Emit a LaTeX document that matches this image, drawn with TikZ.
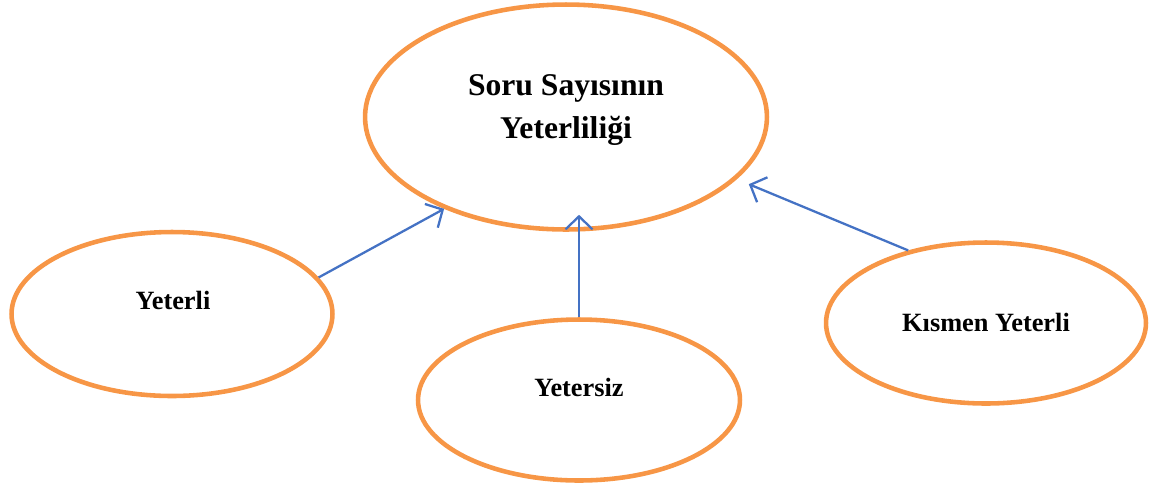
\documentclass[tikz,border=0pt]{standalone}
\usepackage{fontspec}
\setmainfont{Liberation Serif}
\usetikzlibrary{shapes.geometric,arrows.meta,positioning}
\definecolor{ovalorange}{RGB}{247,150,70}
\definecolor{arrowblue}{RGB}{68,114,196}
\tikzset{
  oval/.style={ellipse,draw=ovalorange,line width=2.6pt,inner sep=0pt},
  ovaltext/.style={font=\bfseries\fontsize{15}{18}\selectfont},
  arr/.style={-{Straight Barb[length=2.6mm,width=5.4mm]},draw=arrowblue,line width=1.3pt},
}
\begin{document}
\begin{tikzpicture}[x=0.02cm,y=-0.02cm]
  \useasboundingbox (0,0) rectangle (1157,485);
  \node[oval,minimum width=8.04cm,minimum height=4.5cm] (soru) at (566,117) {};
  \node[font=\bfseries\fontsize{18}{24}\selectfont,align=center] (soruT) at (566,110) {Soru Sayısının\\Yeterliliği};
  \node[oval,minimum width=6.42cm,minimum height=3.28cm] (yeterli) at (172,314) {};
  \node[ovaltext] (yeterliT) at (173,300) {Yeterli};
  \node[oval,minimum width=6.44cm,minimum height=3.22cm] (yetersiz) at (579,400) {};
  \node[ovaltext] (yetersizT) at (579,387) {Yetersiz};
  \node[oval,minimum width=6.4cm,minimum height=3.22cm] (kismen) at (986,323) {};
  \node[ovaltext] (kismenT) at (986,322) {Kısmen Yeterli};
  \draw[arr] (yeterli.14) -- (soru.217);
  \draw[arr,shorten >=-0.34cm] (yetersiz.north) -- (yetersiz.north |- soru.south);
  \draw[arr,shorten >=0.26cm] (kismen.137) -- (soru.-20);
\end{tikzpicture}
\end{document}
